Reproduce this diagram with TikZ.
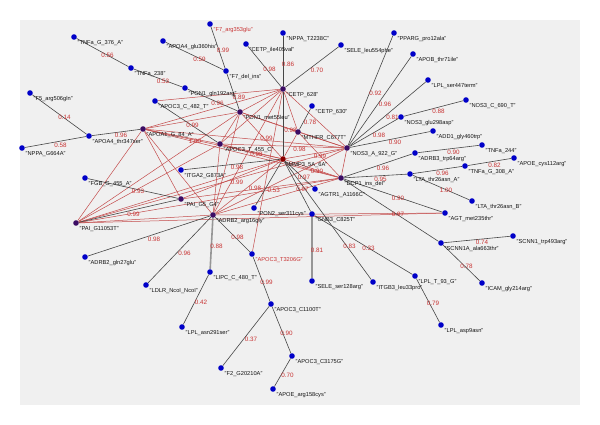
\documentclass[tikz,border=0pt]{standalone}
\usepackage{fontspec}
\setmainfont{Liberation Sans}
\pgfdeclarelayer{bglayer}
\pgfdeclarelayer{edgelayer}
\pgfsetlayers{bglayer,edgelayer,main}
\definecolor{panelgray}{RGB}{240,240,240}
\definecolor{nodeblue}{RGB}{0,0,200}
\definecolor{hubpurple}{RGB}{60,12,100}
\definecolor{hubred}{RGB}{140,0,0}
\definecolor{edgegray}{RGB}{70,70,70}
\definecolor{thickgray}{RGB}{150,150,150}
\definecolor{edgered}{RGB}{195,75,75}
\definecolor{wtred}{RGB}{200,50,50}
\definecolor{labblack}{RGB}{20,20,20}
\newcommand\mknode[5][labblack]{%
  \node[#2] (#3) at (#4) {};
  \node[nlab, text=#1] (#3-t) at ([xshift=3.5pt,yshift=-6.5pt]#3.center) {"#5"};}
\begin{document}
\begin{tikzpicture}[x=1pt,y=-1pt,
  gnode/.style={circle, fill=nodeblue, inner sep=0pt, minimum size=5.6pt},
  hub/.style={gnode, fill=hubpurple},
  hubr/.style={gnode, fill=hubred},
  nlab/.style={font=\fontsize{5.7}{6.5}\selectfont, inner sep=0pt, anchor=west},
  wt/.style={font=\fontsize{6.3}{7}\selectfont, text=wtred, inner sep=0pt, xshift=5pt, yshift=-3pt},
  gedge/.style={draw=edgegray, line width=0.6pt},
  tedge/.style={draw=thickgray, line width=1.6pt},
  redge/.style={draw=edgered, line width=0.5pt}]
\useasboundingbox (0,0) rectangle (600,425);
\begin{pgfonlayer}{bglayer}
  \fill[white] (0,0) rectangle (600,425);
  \fill[panelgray] (20,20) rectangle (580,405);
\end{pgfonlayer}

% ---------- nodes ----------
\mknode{gnode}{tnfa376}{74,37}{TNFa\_G\_376\_A}
\mknode{gnode}{tnfa238}{131,68}{TNFa\_238}
\mknode{gnode}{pon1g}{185,88}{PON1\_gln192arg}
\mknode{gnode}{apoa4g}{163,41}{APOA4\_glu360his}
\mknode[wtred]{gnode}{f7arg}{210,24}{F7\_arg353glu}
\mknode{gnode}{f7del}{226,71}{F7\_del\_ins}
\mknode{gnode}{cetpile}{246,44}{CETP\_ile405val}
\mknode{gnode}{nppat}{283,33}{NPPA\_T2238C}
\mknode{gnode}{seleleu}{341,45}{SELE\_leu554phe}
\mknode{hub}{cetp628}{283,89}{CETP\_628}
\mknode{gnode}{cetp630}{312,106}{CETP\_630}
\mknode{hub}{pon1m}{240,112}{PON1\_met55leu}
\mknode{hub}{mthfr}{298,132}{MTHFR\_C677T}
\mknode{hub}{nos3a}{347,148}{NOS3\_A\_922\_G}
\mknode{gnode}{pparg}{394,33}{PPARG\_pro12ala}
\mknode{gnode}{apob}{413,54}{APOB\_thr71ile}
\mknode{gnode}{lplser}{428,80}{LPL\_ser447term}
\mknode{gnode}{nos3c}{466,100}{NOS3\_C\_690\_T}
\mknode{gnode}{nos3glu}{401,117}{NOS3\_glu298asp}
\mknode{gnode}{add1}{433,131}{ADD1\_gly460trp}
\mknode{gnode}{tnfa244}{482,145}{TNFa\_244}
\mknode{gnode}{adrb3}{415,153}{ADRB3\_trp64arg}
\mknode{gnode}{apoecys}{514,158}{APOE\_cys112arg}
\mknode{gnode}{tnfa308}{465,166}{TNFa\_G\_308\_A}
\mknode{gnode}{ltaa}{410,174}{LTA\_thr26asn\_A}
\mknode{gnode}{ltab}{472,201}{LTA\_thr26asn\_B}
\mknode{gnode}{agt}{445,213}{AGT\_met235thr}
\mknode{gnode}{scnn1a}{441,243}{SCNN1A\_ala663thr}
\mknode{gnode}{scnn1}{513,236}{SCNN1\_trp493arg}
\mknode{gnode}{icam}{482,283}{ICAM\_gly214arg}
\mknode{gnode}{lplasp}{441,325}{LPL\_asp9asn}
\mknode{gnode}{lplt}{415,276}{LPL\_T\_93\_G}
\mknode{gnode}{itgb3}{373,282}{ITGB3\_leu33pro}
\mknode{gnode}{seleser}{312,281}{SELE\_ser128arg}
\mknode{gnode}{gnb3}{312,214}{GNB3\_C825T}
\mknode{gnode}{agtr1}{315,189}{AGTR1\_A1166C}
\mknode{hub}{dcp1}{341,178}{DCP1\_ins\_del}
\mknode{hubr}{mmp3}{283,159}{MMP3\_5A\_6A}
\mknode{hub}{apoc3t455}{220,144}{APOC3\_T\_455\_C}
\mknode{gnode}{apoc3c482}{155,101}{APOC3\_C\_482\_T}
\mknode{hub}{apoa1}{143,129}{APOA1\_G\_84\_A}
\mknode{gnode}{apoa4t}{89,136}{APOA4\_thr347ser}
\mknode{gnode}{f5}{30,93}{F5\_arg506gln}
\mknode{gnode}{nppag}{22,148}{NPPA\_G664A}
\mknode{gnode}{fgb}{85,178}{FGB\_G\_455\_A}
\mknode{gnode}{itga2}{181,170}{ITGA2\_G873A}
\mknode{hub}{paig5}{181,199}{PAI\_G5\_G4}
\mknode{hub}{pai110}{76,223}{PAI\_G11053T}
\mknode{gnode}{adrb2gln}{85,257}{ADRB2\_gln27glu}
\mknode{hub}{adrb2arg}{213,215}{ADRB2\_arg16gly}
\mknode{gnode}{pon2}{254,208}{PON2\_ser311cys}
\mknode[wtred]{gnode}{apoc3t3206}{252,254}{APOC3\_T3206G}
\mknode{gnode}{lipc}{210,272}{LIPC\_C\_480\_T}
\mknode{gnode}{ldlr}{146,285}{LDLR\_NcoI\_NcoI}
\mknode{gnode}{lplasn}{182,327}{LPL\_asn291ser}
\mknode{gnode}{apoc3c1100}{271,304}{APOC3\_C1100T}
\mknode{gnode}{f2}{221,368}{F2\_G20210A}
\mknode{gnode}{apoc3c3175}{292,356}{APOC3\_C3175G}
\mknode{gnode}{apoearg}{273,389}{APOE\_arg158cys}

\begin{pgfonlayer}{edgelayer}
% ---------- red edges ----------
\foreach \a/\b in {apoa1/pon1m, apoa1/cetp628, apoa1/mmp3, apoa1/nos3a, apoa1/dcp1,
  apoa1/paig5, apoa1/adrb2arg, apoa1/pai110, cetp628/pon1m, cetp628/apoc3t455,
  cetp628/adrb2arg, cetp628/apoc3t3206, cetp628/nos3a, cetp628/apoc3c482, cetp628/mthfr,
  pon1m/mthfr, pon1m/adrb2arg, pon1m/pai110, pon1m/apoc3t455,
  apoc3t455/dcp1, apoc3t455/adrb2arg, apoc3t455/pai110, mmp3/pai110,
  nos3a/dcp1, nos3a/adrb2arg, nos3a/pai110, nos3a/mthfr, dcp1/adrb2arg, dcp1/pai110,
  adrb2arg/pai110, adrb2arg/agt, pai110/agt, mthfr/dcp1, mthfr/mmp3}
  {\draw[redge] (\a) -- (\b);}
\draw[redge] (apoa1) -- node[wt,pos=0.62] {1.00} (apoc3t455);
\draw[redge] (pon1m) -- node[wt,pos=0.42] {0.98} (nos3a);
\draw[redge] (pon1m) -- node[wt] {0.99} (mmp3);
\draw[redge] (apoc3t455) -- node[wt] {0.98} (mmp3);
\draw[redge] (apoc3t455) -- node[wt,pos=0.59] {0.98} (nos3a);
\draw[redge] (mmp3) -- node[wt] {0.99} (nos3a);
\draw[redge] (mmp3) -- node[wt] {0.90} (dcp1);
\draw[redge] (mmp3) -- node[wt] {0.99} (paig5);
\draw[redge] (adrb2arg) -- node[wt,pos=0.53] {0.98} (mmp3);
\draw[redge] (dcp1) -- node[wt,pos=0.45] {0.53} (paig5);

% ---------- gray edges ----------
\draw[gedge] (tnfa376) -- node[wt] {0.56} (tnfa238);
\draw[gedge] (tnfa238) -- node[wt] {0.53} (pon1g);
\draw[gedge] (pon1g) -- node[wt] {0.96} (pon1m);
\draw[gedge] (apoa4g) -- node[wt] {0.59} (f7del);
\draw[gedge] (f7arg) -- node[wt] {0.99} (f7del);
\draw[gedge] (f7del) -- node[wt,pos=0.58] {0.89} (pon1m);
\draw[gedge] (cetpile) -- node[wt] {0.98} (cetp628);
\draw[gedge] (nppat) -- node[wt] {0.86} (cetp628);
\draw[gedge] (cetp628) -- (mmp3);
\draw[gedge] (seleleu) -- node[wt] {0.70} (cetp628);
\draw[gedge] (cetp630) -- node[wt] {0.78} (mthfr);
\draw[gedge] (apoa4t) -- node[wt] {0.96} (apoa1);
\draw[gedge] (nppag) -- node[wt] {0.58} (apoa4t);
\draw[gedge] (f5) -- node[wt] {0.14} (apoa4t);
\draw[gedge] (apoc3c482) -- node[wt] {0.99} (apoc3t455);
\draw[gedge] (itga2) -- node[wt] {0.98} (mmp3);
\draw[gedge] (fgb) -- node[wt] {0.93} (paig5);
\draw[gedge] (pai110) -- node[wt] {0.99} (paig5);
\draw[gedge] (adrb2gln) -- node[wt] {0.98} (adrb2arg);
\draw[gedge] (ldlr) -- node[wt] {0.96} (adrb2arg);
\draw[tedge] (adrb2arg) -- node[wt] {0.88} (lipc);
\draw[gedge] (adrb2arg) -- node[wt] {0.98} (apoc3t3206);
\draw[gedge] (lipc) -- node[wt] {0.42} (lplasn);
\draw[gedge] (apoc3t3206) -- node[wt] {0.99} (apoc3c1100);
\draw[gedge] (apoc3c1100) -- node[wt] {0.37} (f2);
\draw[gedge] (apoc3c1100) -- node[wt] {0.90} (apoc3c3175);
\draw[gedge] (apoc3c3175) -- node[wt] {0.70} (apoearg);
\draw[tedge] (gnb3) -- node[wt] {0.81} (seleser);
\draw[gedge] (mmp3) -- node[wt,pos=0.69] {0.83} (itgb3);
\draw[gedge] (mmp3) -- node[wt] {0.97} (agtr1);
\draw[gedge] (mmp3) -- node[wt] {0.97} (gnb3);
\draw[gedge] (mmp3) -- (pon2);
\draw[gedge] (gnb3) -- node[wt] {0.33} (lplt);
\draw[gedge] (lplt) -- node[wt] {0.79} (lplasp);
\draw[gedge] (scnn1a) -- node[wt] {0.78} (icam);
\draw[gedge] (scnn1a) -- node[wt] {0.74} (scnn1);
\draw[gedge] (dcp1) -- node[wt,pos=0.52] {0.97} (scnn1a);
\draw[gedge] (dcp1) -- node[wt] {0.90} (agt);
\draw[gedge] (nos3a) -- node[wt] {0.92} (pparg);
\draw[gedge] (nos3a) -- node[wt] {0.96} (apob);
\draw[gedge] (nos3a) -- node[wt] {0.81} (lplser);
\draw[gedge] (nos3a) -- node[wt] {0.98} (nos3glu);
\draw[gedge] (nos3glu) -- node[wt] {0.88} (nos3c);
\draw[gedge] (nos3a) -- node[wt] {0.90} (add1);
\draw[gedge] (adrb3) -- node[wt] {0.90} (tnfa244);
\draw[gedge] (dcp1) -- node[wt] {0.96} (adrb3);
\draw[gedge] (dcp1) -- node[wt] {0.95} (ltaa);
\draw[gedge] (ltaa) -- node[wt] {0.96} (tnfa308);
\draw[gedge] (tnfa308) -- node[wt] {0.82} (apoecys);
\draw[gedge] (ltaa) -- node[wt] {1.00} (ltab);
\end{pgfonlayer}
\end{tikzpicture}
\end{document}
